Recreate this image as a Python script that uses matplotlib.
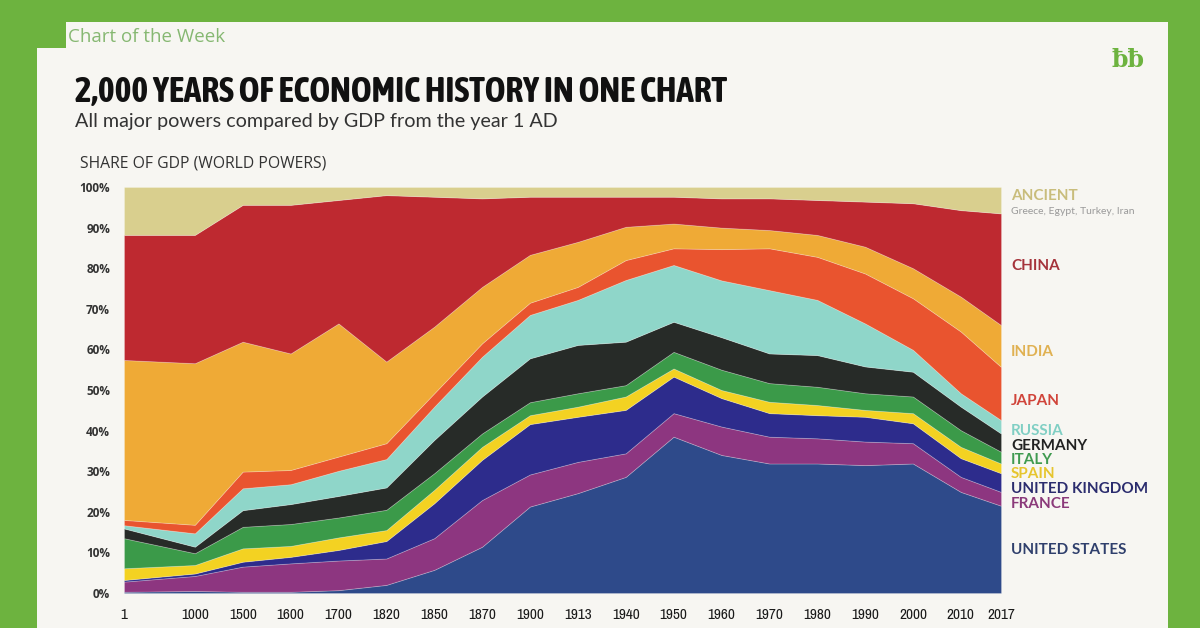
import matplotlib
matplotlib.use("Agg")
import matplotlib.pyplot as plt
from matplotlib.patches import Rectangle
from matplotlib import font_manager as fm
from matplotlib import patheffects as pe

# ---------------- data ----------------
years = ["1", "1000", "1500", "1600", "1700", "1820", "1850", "1870", "1900", "1913",
         "1940", "1950", "1960", "1970", "1980", "1990", "2000", "2010", "2017"]

us      = [0.3, 0.5, 0.3, 0.3, 0.7, 2.0, 5.7, 11.4, 21.3, 24.6, 28.6, 38.5, 34.0, 31.9, 31.9, 31.5, 31.9, 24.9, 21.5]
france  = [2.5, 3.7, 6.2, 7.0, 7.3, 6.5, 7.8, 11.5, 7.9, 7.7, 5.8, 5.8, 7.0, 6.6, 6.2, 5.8, 5.0, 3.7, 3.4]
uk      = [0.4, 0.6, 1.2, 1.6, 2.6, 4.3, 8.6, 9.9, 12.4, 11.1, 10.7, 9.0, 7.0, 5.8, 5.7, 6.1, 4.9, 4.6, 4.6]
spain   = [2.9, 2.1, 3.3, 2.7, 3.1, 2.7, 3.3, 3.2, 2.2, 2.5, 3.3, 2.0, 2.0, 2.8, 2.5, 1.7, 2.5, 2.8, 2.4]
italy   = [7.4, 2.9, 5.3, 5.4, 4.9, 5.0, 4.1, 3.3, 3.2, 3.3, 2.8, 4.1, 5.0, 4.6, 4.5, 4.1, 4.1, 4.1, 2.9]
germany = [2.4, 1.6, 4.1, 4.9, 5.3, 5.5, 8.2, 9.1, 10.8, 11.9, 10.7, 7.4, 8.0, 7.3, 7.8, 6.6, 6.1, 5.8, 4.5]
russia  = [0.8, 3.3, 5.4, 4.9, 6.2, 7.0, 8.2, 9.8, 10.7, 11.1, 15.2, 14.0, 14.0, 15.6, 13.6, 10.6, 5.4, 3.3, 3.3]
japan   = [1.3, 2.1, 4.1, 3.5, 3.5, 3.9, 3.3, 3.3, 3.0, 3.2, 4.9, 4.1, 7.7, 10.3, 10.6, 12.3, 12.7, 15.2, 13.1]
india   = [39.4, 39.8, 32.0, 28.7, 32.8, 20.1, 16.4, 13.9, 11.8, 11.1, 8.2, 6.1, 5.3, 4.5, 5.4, 6.6, 7.4, 8.6, 10.3]
china   = [30.8, 31.6, 33.7, 36.6, 30.4, 41.0, 32.0, 21.8, 14.3, 11.1, 7.4, 6.6, 7.2, 7.8, 8.6, 11.1, 16.0, 21.3, 27.5]
ancient = [11.8, 11.8, 4.4, 4.4, 3.2, 2.0, 2.4, 2.8, 2.4, 2.4, 2.4, 2.4, 2.8, 2.8, 3.2, 3.6, 4.0, 5.7, 6.5]

series_names = ["UNITED STATES", "FRANCE", "UNITED KINGDOM", "SPAIN", "ITALY", "GERMANY",
                "RUSSIA", "JAPAN", "INDIA", "CHINA", "ANCIENT"]
y_ticks = [0, 10, 20, 30, 40, 50, 60, 70, 80, 90, 100]

# ---------------- style ----------------
fill_colors = ["#2e4a8a", "#8d3680", "#2d2c8c", "#f3d222", "#3b9a49", "#272b28",
               "#8fd6c9", "#e9542f", "#efaa36", "#be2930", "#d9cf8e"]
label_colors = ["#2f3f6c", "#8b3a7a", "#2b2c6e", "#e6c52e", "#3f9a50", "#222222",
                "#80cfc4", "#d0443a", "#e0b152", "#a5333b", "#c9bd7c"]
label_y_px = [550, 504, 489, 474, 460, 446, 431, 401, 352, 266, 196]

# find a condensed / narrow family (prefer one with a bold face)
narrow_fams = {}
for f in fm.fontManager.ttflist:
    n = f.name
    if ("Narrow" in n or "Condensed" in n) and "Mono" not in n:
        w = f.weight if isinstance(f.weight, int) else (700 if "bold" in str(f.weight).lower() else 400)
        narrow_fams.setdefault(n, set()).add(w)
bold_narrow = [n for n, ws in narrow_fams.items() if max(ws) >= 600]
if bold_narrow:
    title_font, title_weight, title_fx = bold_narrow[0], "bold", None
elif narrow_fams:
    title_font, title_weight = list(narrow_fams)[0], "normal"
    title_fx = [pe.withStroke(linewidth=1.3, foreground="#111111")]
else:
    title_font, title_weight, title_fx = "Roboto", "bold", None
tick_font = list(narrow_fams)[0] if narrow_fams else "Roboto"

W, H = 1200, 628
fig = plt.figure(figsize=(W / 100, H / 100), dpi=100)
fig.patch.set_facecolor("#6db33f")

def fx(px):
    return px / W

def fy(py):
    return 1 - py / H

# background (paper) on an axes underneath everything
bg = fig.add_axes([0, 0, 1, 1], zorder=-5)
bg.set_xlim(0, W)
bg.set_ylim(H, 0)
bg.axis("off")
bg.add_patch(Rectangle((37, 22), 1168 - 37, H - 22, facecolor="#f7f6f2", edgecolor="none"))
bg.add_patch(Rectangle((30, 20), 36, 28, facecolor="#6db33f", edgecolor="none"))

# header texts
fig.text(fx(68), fy(37), "Chart of the Week", color="#86b872", fontsize=13.5,
         family="Open Sans", va="center", ha="left")
fig.text(fx(75), fy(92), "2,000 YEARS OF ECONOMIC HISTORY IN ONE CHART", color="#111111",
         fontsize=25.5, family=title_font, weight=title_weight, va="center", ha="left",
         path_effects=title_fx)
fig.text(fx(75), fy(121), "All major powers compared by GDP from the year 1 AD", color="#333333",
         fontsize=14.2, family="Lato", va="center", ha="left")
fig.text(fx(80), fy(163), "SHARE OF GDP (WORLD POWERS)", color="#333333", fontsize=11.3,
         family="Open Sans", va="center", ha="left")
fig.text(fx(1128), fy(60), "ƀƀ", color="#6db33f", fontsize=17, family="DejaVu Serif",
         weight="bold", va="center", ha="center")

# chart
left, right, top, bottom = 124, 1001, 187, 593
ax = fig.add_axes([fx(left), fy(bottom), fx(right) - fx(left), fy(top) - fy(bottom)], zorder=2)
ax.set_facecolor("none")

x_pos = [0.0] + [1.48 + i for i in range(17)] + [18.32]
ax.stackplot(x_pos, us, france, uk, spain, italy, germany, russia, japan, india, china, ancient,
             colors=fill_colors, edgecolor="#ffffff40", linewidth=0.6)

ax.set_xlim(0, 18.32)
ax.set_ylim(0, 100)
for s in ax.spines.values():
    s.set_visible(False)
ax.set_yticks(y_ticks)
ax.set_yticklabels([f"{v}%" for v in y_ticks], fontsize=8.5, color="#333333",
                   family="Open Sans", weight="bold")
ax.set_xticks(x_pos)
ax.set_xticklabels(years, fontsize=11, color="#1a1a1a", family=tick_font)
ax.tick_params(axis="both", length=0)
ax.tick_params(axis="y", pad=10)
ax.tick_params(axis="x", pad=11)

# right-hand labels
for name, col, ypx in zip(series_names, label_colors, label_y_px):
    fig.text(fx(1011), fy(ypx), name, color=col, fontsize=11, family="Lato",
             weight="bold", va="center", ha="left")
fig.text(fx(1011), fy(211), "Greece, Egypt, Turkey, Iran", color="#9a9a9a", fontsize=7.5,
         family="Lato", va="center", ha="left")

fig.savefig("out.png", dpi=100, facecolor=fig.get_facecolor())
